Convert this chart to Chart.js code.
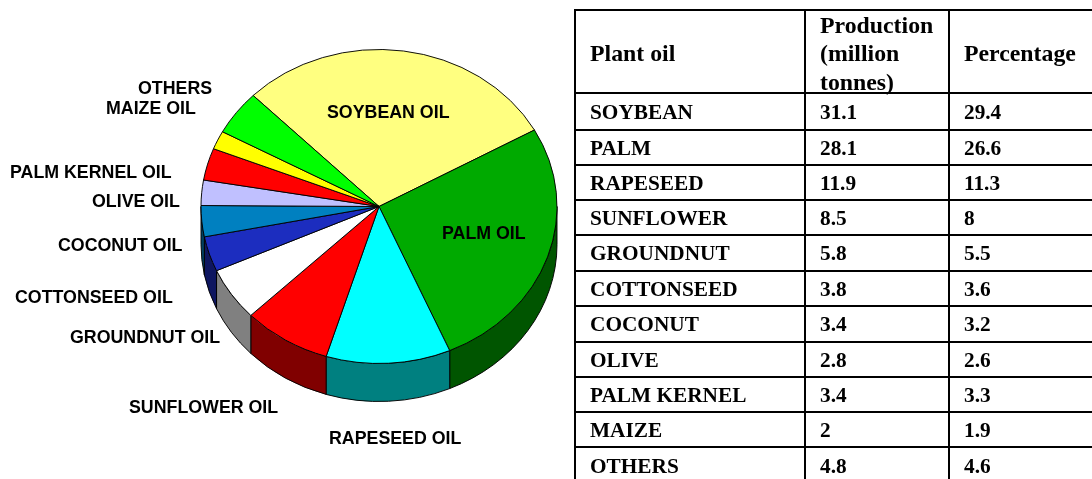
<!DOCTYPE html>
<html>
<head>
<meta charset="utf-8">
<title>Plant oil production</title>
<script src="https://cdn.jsdelivr.net/npm/chart.js@4"></script>
<style>
    html, body { margin: 0; padding: 0; background: #fff; overflow: hidden; width: 1092px; height: 479px; }
    #wrap { position: relative; width: 1092px; height: 479px; overflow: hidden; }
    #oilChart { position: absolute; left: 0; top: 0; }
    #oilTable {
        position: absolute; left: 574px; top: 9px; width: 529px; table-layout: fixed;
        border-collapse: collapse; font: bold 21.3px "Liberation Serif", serif; color: #000;
    }
    #oilTable td { border: 2px solid #000; padding: 0 0 0 14px; line-height: 24px; vertical-align: middle; box-sizing: border-box; }
    #oilTable tr:first-child td { font-size: 23.8px; line-height: 28.5px; }
    #oilTable tr:first-child td div { margin: -1px 0 -5px; }
</style>
</head>
<body>
<div id="wrap">
    <canvas id="oilChart" width="1092" height="479"></canvas>
    <table id="oilTable">
        <colgroup><col style="width:230px"><col style="width:144px"><col style="width:155px"></colgroup>
        <tbody id="oilRows"></tbody>
    </table>
</div>
<script>
const plantOils = ['SOYBEAN', 'PALM', 'RAPESEED', 'SUNFLOWER', 'GROUNDNUT', 'COTTONSEED', 'COCONUT', 'OLIVE', 'PALM KERNEL', 'MAIZE', 'OTHERS'];
const production = ['31.1', '28.1', '11.9', '8.5', '5.8', '3.8', '3.4', '2.8', '3.4', '2', '4.8'];
const percentage = [29.4, 26.6, 11.3, 8, 5.5, 3.6, 3.2, 2.6, 3.3, 1.9, 4.6];
const tableHeader = ['Plant oil', 'Production<br>(million<br>tonnes)', 'Percentage'];
const pieLabels = ['SOYBEAN OIL', 'PALM OIL', 'RAPESEED OIL', 'SUNFLOWER OIL', 'GROUNDNUT OIL', 'COTTONSEED OIL', 'COCONUT OIL', 'OLIVE OIL', 'PALM KERNEL OIL', 'MAIZE OIL', 'OTHERS'];

const topColors = ['#FFFF80', '#00AA00', '#00FFFF', '#FF0000', '#FFFFFF', '#1C2DBF', '#0080C0', '#C0C0FF', '#FF0000', '#FFFF00', '#00FF00'];
const sideColors = ['#808040', '#005500', '#008080', '#800000', '#808080', '#0E1660', '#004060', '#606080', '#800000', '#808000', '#008000'];

// where the labels sit in the picture (left edge, middle of text)
const labelSpots = {
    'SOYBEAN OIL': [327, 113], 'PALM OIL': [442, 234], 'RAPESEED OIL': [329, 439], 'SUNFLOWER OIL': [129, 408],
    'GROUNDNUT OIL': [70, 338], 'COTTONSEED OIL': [15, 298], 'COCONUT OIL': [58, 246], 'OLIVE OIL': [92, 202],
    'PALM KERNEL OIL': [10, 173], 'MAIZE OIL': [106, 109], 'OTHERS': [138, 89]
};

const tilt = 0.882;      // pie is squashed to an ellipse
const depth = 38 / tilt; // height of the side wall
const rowHeights = [83, 37, 35, 35, 35, 36, 35, 36, 35, 35, 35, 37];

// table
let rows = '<tr>' + tableHeader.map(h => '<td><div>' + h + '</div></td>').join('') + '</tr>';
plantOils.forEach((oil, i) => {
    rows += '<tr><td>' + oil + '</td><td>' + production[i] + '</td><td>' + percentage[i] + '</td></tr>';
});
document.getElementById('oilRows').innerHTML = rows;
document.querySelectorAll('#oilRows tr').forEach((tr, i) => { tr.style.height = rowHeights[i] + 'px'; });

// squash the pie and draw its side wall before the slices go on top
const pie3d = {
    id: 'pie3d',
    beforeDatasetsDraw(chart) {
        const ctx = chart.ctx;
        const arcs = chart.getDatasetMeta(0).data;
        const cx = arcs[0].x, cy = arcs[0].y;
        ctx.save();
        ctx.translate(cx, cy);
        ctx.scale(1, tilt);
        ctx.translate(-cx, -cy);
        arcs.forEach((arc, i) => {
            const a0 = Math.max(arc.startAngle, 0);
            const a1 = Math.min(arc.endAngle, Math.PI);
            if (a1 <= a0) return;
            ctx.beginPath();
            ctx.arc(cx, cy, arc.outerRadius, a0, a1);
            ctx.arc(cx, cy + depth, arc.outerRadius, a1, a0, true);
            ctx.closePath();
            ctx.fillStyle = sideColors[i];
            ctx.fill();
            ctx.lineWidth = 1;
            ctx.strokeStyle = '#000';
            ctx.stroke();
        });
    },
    afterDatasetsDraw(chart) {
        const ctx = chart.ctx;
        ctx.restore();
        ctx.save();
        ctx.font = 'bold 17.8px "Liberation Sans", Arial, sans-serif';
        ctx.fillStyle = '#000';
        ctx.textBaseline = 'middle';
        pieLabels.forEach(name => {
            const spot = labelSpots[name];
            ctx.fillText(name, spot[0], spot[1]);
        });
        ctx.restore();
    }
};

const ctx = document.getElementById('oilChart').getContext('2d');
const oilChart = new Chart(ctx, {
    type: 'pie',
    data: {
        labels: pieLabels,
        datasets: [{
            data: percentage,
            backgroundColor: topColors,
            borderColor: '#000',
            borderWidth: 1
        }]
    },
    plugins: [pie3d],
    options: {
        responsive: false,
        animation: false,
        rotation: -45,
        layout: { padding: { left: 200.5, right: 534.5, top: 28, bottom: 94 } },
        plugins: { legend: { display: false }, tooltip: { enabled: false } }
    }
});
</script>
</body>
</html>
